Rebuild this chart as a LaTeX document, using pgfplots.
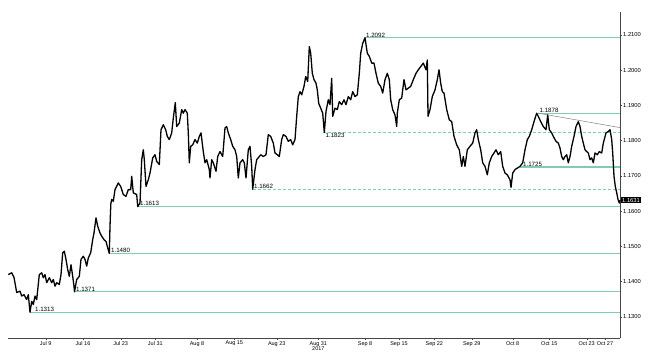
\documentclass[border=0pt]{standalone}
\usepackage{fontspec}
\setmainfont{Liberation Sans}
\usepackage{pgfplots}
\pgfplotsset{compat=1.18}
\definecolor{lvl}{RGB}{125,205,175}
\definecolor{axc}{RGB}{70,70,70}
\begin{document}
\begin{tikzpicture}
\begin{axis}[
  scale only axis, width=612bp, height=326bp,
  xmin=8, xmax=620, ymin=1.124, ymax=1.2165,
  axis x line*=bottom, axis y line*=right,
  axis line style={axc, line width=0.6bp},
  /pgf/number format/assume math mode=true,
  xtick={45.7,83,120.7,155.3,197,234.3,276.7,318.3,365,399,434.3,471.7,512.7,549.3,586.7,605},
  xticklabels={Jul 9,Jul 16,Jul 23,Jul 31,Aug 8,Aug 15,Aug 23,{Aug 31\\2017},Sep 8,Sep 15,Sep 22,Sep 29,Oct 8,Oct 15,Oct 23,Oct 27},
  xticklabel style={font=\fontsize{5.5}{5.8}\selectfont, align=center, inner sep=1bp},
  ytick={1.13,1.14,1.15,1.16,1.17,1.18,1.19,1.20,1.21},
  yticklabel style={font=\fontsize{5.8}{6}\selectfont, inner sep=1bp,
    /pgf/number format/fixed, /pgf/number format/fixed zerofill, /pgf/number format/precision=4},
  tick style={axc, line width=0.4bp},
  major tick length=2bp, minor tick length=1.2bp,
  tick align=outside,
  minor x tick num=4, minor y tick num=1,
  clip=false,
]
% level lines
\addplot[lvl, line width=1.3bp] coordinates {(365,1.2092) (620,1.2092)};
\addplot[lvl, line width=1.3bp] coordinates {(538,1.1878) (620,1.1878)};
\addplot[lvl, line width=1.3bp, dash pattern=on 2.5bp off 2.5bp] coordinates {(323,1.1823) (620,1.1823)};
\addplot[lvl, line width=1.3bp] coordinates {(520,1.1725) (620,1.1725)};
\addplot[lvl, line width=1.3bp, dash pattern=on 2.5bp off 2.5bp] coordinates {(253,1.1662) (620,1.1662)};
\addplot[lvl, line width=1.3bp] coordinates {(137.5,1.1613) (620,1.1613)};
\addplot[lvl, line width=1.3bp] coordinates {(109.3,1.1480) (620,1.1480)};
\addplot[lvl, line width=1.3bp] coordinates {(73.5,1.1371) (620,1.1371)};
\addplot[lvl, line width=1.3bp] coordinates {(30,1.1313) (620,1.1313)};
\addplot[gray, line width=0.5bp] coordinates {(538,1.1878) (620,1.1837)};
% price
\addplot[black, line width=1.3bp, line join=round] coordinates {
(8.3,1.1420) (11.7,1.1425) (14,1.1412) (16.7,1.1369) (20,1.1373) (21.7,1.1359) (24,1.1363)
(26.7,1.1349) (28.3,1.1363) (30,1.1313) (31.7,1.1344) (33.3,1.1335) (35,1.1359) (36.7,1.1349)
(39.3,1.1420) (41.7,1.1425) (43.3,1.1411) (45,1.1420) (46.7,1.1397) (49.3,1.1411) (51.7,1.1397)
(53.3,1.1406) (55,1.1387) (56.7,1.1397) (59.3,1.1392) (61,1.1420) (62.7,1.1482) (64.3,1.1486)
(66,1.1463) (67.7,1.1434) (69.3,1.1415) (71,1.1448) (72.7,1.1415) (74,1.1387) (74.5,1.1371)
(76.7,1.1406) (79.3,1.1415) (81,1.1463) (83.3,1.1472) (85,1.1463) (86.7,1.1444) (88.3,1.1467)
(90.7,1.1482) (92.7,1.1519) (94,1.1538) (96,1.1581) (97.7,1.1557) (100,1.1538) (101.7,1.1529)
(104,1.1519) (106,1.1514) (107.3,1.1500) (109.3,1.1480) (110,1.1557) (110.8,1.1620) (111.7,1.1633)
(113.3,1.1628) (115,1.1661) (118.3,1.1680) (120.7,1.1670) (123.3,1.1647) (126,1.1642) (128.3,1.1661)
(130.7,1.1661) (131.7,1.1699) (133.3,1.1652) (136.7,1.1647) (137.7,1.1613) (140,1.1623) (141.7,1.1746)
(143.3,1.1774) (144.3,1.1746) (146,1.1670) (148.3,1.1689) (150,1.1708) (152.7,1.1751) (155,1.1760)
(156.7,1.1741) (159.3,1.1732) (161,1.1831) (163.3,1.1845) (165.7,1.1831) (167.3,1.1812) (169.3,1.1803)
(171.7,1.1822) (173.3,1.1864) (175.3,1.1908) (176.7,1.1840) (179.3,1.1850) (181.7,1.1888) (183.3,1.1878)
(185,1.1888) (187.3,1.1878) (188.3,1.1822) (189.3,1.1737) (190.7,1.1784) (192.7,1.1788) (195,1.1803)
(197.3,1.1793) (199.3,1.1812) (201,1.1822) (203.3,1.1769) (205,1.1737) (206.7,1.1746) (209.3,1.1718)
(210,1.1694) (211.7,1.1746) (213.3,1.1737) (216,1.1713) (217.7,1.1755) (220,1.1769) (222.7,1.1755)
(225,1.1836) (226.7,1.1840) (228.3,1.1822) (230.7,1.1803) (232.7,1.1784) (235,1.1774) (236.7,1.1755)
(238.3,1.1694) (240,1.1737) (242.7,1.1746) (244.3,1.1737) (246,1.1694) (248.3,1.1774) (250,1.1784)
(251.7,1.1727) (252.7,1.1662) (255,1.1718) (256.7,1.1746) (259.3,1.1755) (260.7,1.1760) (263.3,1.1755)
(266,1.1760) (268.3,1.1817) (270.7,1.1812) (273.3,1.1793) (275,1.1765) (277.3,1.1760) (279.3,1.1755)
(281.7,1.1803) (283.3,1.1817) (286,1.1812) (288.3,1.1798) (290.7,1.1803) (292.7,1.1788) (295,1.1803)
(296.7,1.1869) (298.3,1.1925) (300,1.1939) (301.7,1.1930) (304,1.1954) (305.7,1.1982) (307.7,1.1968)
(309.3,1.2067) (310.7,1.2048) (312.3,1.1991) (314,1.1973) (316,1.1963) (317.3,1.1944) (318.7,1.1906)
(320.7,1.1892) (322.7,1.1878) (324.3,1.1823) (326,1.1883) (328.3,1.1916) (330,1.1902) (331.7,1.1977)
(332.7,1.1869) (335,1.1892) (337.3,1.1888) (339.3,1.1911) (341.7,1.1902) (344,1.1916) (346,1.1902)
(348.3,1.1925) (350.7,1.1916) (352.7,1.1939) (355,1.1925) (357.3,1.1930) (359.3,1.1991) (360.7,1.2048)
(362.7,1.2076) (365,1.2092) (367.3,1.2048) (369.3,1.2039) (371.7,1.2020) (374,1.2020) (376,1.1991)
(378.3,1.1963) (380.7,1.1954) (382.7,1.1935) (385,1.1973) (387.3,1.1991) (389.3,1.1973) (390.7,1.1916)
(392.7,1.1888) (395,1.1873) (396.7,1.1840) (397.3,1.1878) (399.3,1.1916) (401.7,1.1921) (404,1.1973)
(406,1.1944) (408.3,1.1949) (410.7,1.1954) (413.3,1.1973) (416,1.1991) (418.3,1.2001) (420.7,1.2010)
(423.3,1.2020) (426,1.2001) (427.3,1.2029) (428,1.1869) (430,1.1888) (432.3,1.1925) (435,1.1944)
(437.3,1.1973) (439,1.2001) (440.7,1.1963) (442.3,1.1939) (444,1.1935) (446.7,1.1888) (449.3,1.1859)
(451.7,1.1854) (454,1.1812) (456.7,1.1788) (459.3,1.1774) (461.7,1.1727) (463.3,1.1755) (465,1.1727)
(467.3,1.1774) (470,1.1784) (472.7,1.1793) (475,1.1822) (476.7,1.1831) (478.3,1.1803) (480.7,1.1774)
(482.7,1.1737) (485,1.1727) (487.3,1.1703) (489.3,1.1737) (491.7,1.1755) (494,1.1765) (496,1.1774)
(498.3,1.1760) (500.7,1.1769) (502.7,1.1727) (505,1.1708) (507.3,1.1703) (510,1.1689) (511,1.1667)
(512.7,1.1708) (515,1.1718) (517.3,1.1722) (520,1.1727) (522.7,1.1737) (525,1.1774) (527.3,1.1803)
(529.3,1.1812) (531.7,1.1831) (534,1.1854) (536.7,1.1878) (538.3,1.1869) (540.7,1.1854) (543.3,1.1840)
(546,1.1831) (547.7,1.1873) (549.3,1.1831) (551.7,1.1822) (553.3,1.1812) (556,1.1798) (558.3,1.1793)
(560,1.1779) (561.7,1.1755) (563.3,1.1746) (565,1.1755) (566.7,1.1760) (568.3,1.1737) (570,1.1755)
(571.7,1.1784) (574,1.1812) (576,1.1840) (578.3,1.1854) (580,1.1840) (581.7,1.1812) (583.3,1.1793)
(585,1.1774) (586.7,1.1769) (588.3,1.1765) (590,1.1746) (591.7,1.1751) (593.3,1.1737) (595,1.1765)
(597.3,1.1760) (599.3,1.1769) (601.7,1.1765) (603.3,1.1793) (606,1.1822) (608.3,1.1826) (610,1.1831)
(611.7,1.1803) (612.7,1.1765) (614,1.1699) (615.3,1.1670) (616.7,1.1652) (618,1.1633) (619.3,1.1623)
(620,1.1631)
};
% labels
\begin{scope}[every node/.style={font=\fontsize{6.2}{6.2}\selectfont, inner sep=0.4bp}]
\node[anchor=south west] at (axis cs:365.5,1.2092) {1.2092};
\node[anchor=south west] at (axis cs:539,1.1878) {1.1878};
\node[anchor=north west] at (axis cs:325,1.1823) {1.1823};
\node[anchor=south west] at (axis cs:522.5,1.1725) {1.1725};
\node[anchor=south west] at (axis cs:253.5,1.1662) {1.1662};
\node[anchor=south west] at (axis cs:139.5,1.1613) {1.1613};
\node[anchor=south west] at (axis cs:110.5,1.1480) {1.1480};
\node[anchor=south west] at (axis cs:75.5,1.1371) {1.1371};
\node[anchor=south west] at (axis cs:34.5,1.1313) {1.1313};
\end{scope}
\node[fill=black, text=white, anchor=west, inner sep=1bp, xshift=1bp,
  font=\fontsize{5.8}{6}\selectfont] at (axis cs:620,1.1631) {1.1631};
\end{axis}
\path ([shift={(-8bp,-21bp)}]current axis.south west) rectangle ([shift={(34bp,12bp)}]current axis.north east);
\end{tikzpicture}
\end{document}
